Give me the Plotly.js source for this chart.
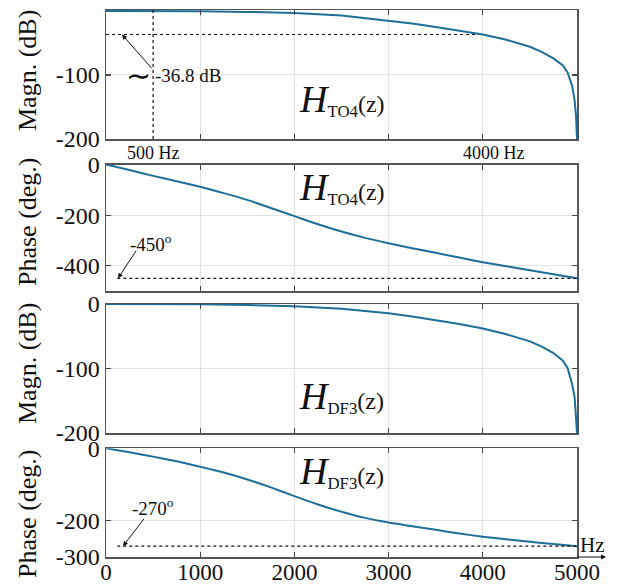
<!DOCTYPE html>
<html><head><meta charset="utf-8">
<script src="https://cdn.plot.ly/plotly-3.0.1.min.js"></script>
<style>html,body{margin:0;padding:0;background:#fff}#chart{width:617px;height:585px}</style>
</head><body><div id="chart"></div>
<script>
// ---- data ----
const magFreq = [0,500,1000,1500,2000,2500,3000,3250,3500,3750,4000,4250,4500,4625,4750,4850,4900,4950,4975,4990,5000];
const magTO4  = [0,0,-0.5,-1.5,-3,-7,-15,-19.5,-25,-30.5,-36.8,-45,-56,-64,-74,-85,-96,-118,-140,-165,-200];
const magDF3  = [0,0,-0.5,-1.5,-3.5,-7.5,-14.5,-19.5,-25,-31,-38,-47,-58,-66,-76,-88,-99,-125,-145,-170,-200];
const phFreq  = [0,250,500,750,1000,1250,1500,1750,2000,2250,2500,2750,3000,3250,3500,3750,4000,4250,4500,4750,5000];
const phTO4   = [0,-22,-45,-66,-88,-113,-140,-172,-204,-236,-265,-290,-311,-331,-349,-368,-386,-402,-418,-434,-450];
const phDF3   = [0,-11,-23,-36,-51,-67,-86,-108,-132,-155,-175,-192,-205,-215,-225,-235,-244,-251,-258,-264,-270];
const xTicks  = [0,1000,2000,3000,4000,5000];
const yTicks1 = [-200,-100,0];
const yTicks2 = [-400,-200,0];
const yTicks3 = [-200,-100,0];
const yTicks4 = [-300,-200,0];
const markMag = -36.8;   // dB at 4000 Hz
const markFreq = 500;    // Hz
const markPh1 = -450;
const markPh2 = -270;

// ---- geometry ----
const W = 617, H = 585;
const M = {l:106, r:40, t:10, b:28};
const PH = H - M.t - M.b, PW = W - M.l - M.r;
const py = p => (H - M.b - p) / PH;   // pixel y -> paper
const px = p => (p - M.l) / PW;       // pixel x -> paper
const col = '#1f6e98';
const FONT = '"Liberation Serif", "Times New Roman", serif';

const traces = [
  {x: magFreq, y: magTO4, xaxis:'x', yaxis:'y', mode:'lines', line:{color:col,width:2}},
  {x: phFreq, y: phTO4, xaxis:'x2', yaxis:'y2', mode:'lines', line:{color:col,width:2,shape:'spline',smoothing:0.6}},
  {x: magFreq, y: magDF3, xaxis:'x3', yaxis:'y3', mode:'lines', line:{color:col,width:2}},
  {x: phFreq, y: phDF3, xaxis:'x4', yaxis:'y4', mode:'lines', line:{color:col,width:2,shape:'spline',smoothing:0.6}}
];

function xa(anchor, labels){
  return {range:[0,5000], anchor:anchor, tickvals: xTicks, ticktext: xTicks.map(String),
    showticklabels: labels, ticks:'inside', ticklen:5, tickcolor:'#444', tickwidth:1.2,
    ticklabelstandoff: -6,
    showline:true, linecolor:'#555', linewidth:1.5, mirror:'allticks',
    showgrid:true, gridcolor:'#e2e2e2', gridwidth:1, zeroline:false,
    tickfont:{family:FONT,size:23,color:'#111'}};
}
function ya(anchor, dom, range, tv){
  return {domain:dom, range:range, anchor:anchor, tickvals:tv, ticktext: tv.map(String),
    ticks:'inside', ticklen:5, tickcolor:'#444', tickwidth:1.2,
    showline:true, linecolor:'#555', linewidth:1.5, mirror:'allticks',
    showgrid:true, gridcolor:'#e2e2e2', gridwidth:1, zeroline:false,
    tickfont:{family:FONT,size:24,color:'#111'}};
}

const dotted = {color:'#111', width:1.2, dash:'dot'};
const shapes = [
  {type:'line', xref:'x', yref:'y', x0:markFreq, x1:markFreq, y0:-200, y1:1.5, line:dotted},
  {type:'line', xref:'x', yref:'y', x0:0, x1:3950, y0:markMag, y1:markMag, line:dotted},
  {type:'line', xref:'x2', yref:'y2', x0:120, x1:5000, y0:markPh1, y1:markPh1, line:dotted},
  {type:'line', xref:'x4', yref:'y4', x0:120, x1:5000, y0:markPh2, y1:markPh2, line:dotted}
];

function hLabel(sub, xr, yr, yv){
  return {xref:xr, yref:yr, x:2028, y:yv, xanchor:'left', yanchor:'middle', showarrow:false,
    text:'<span style="font-size:38px"><i>H</i></span><sub>'+sub+'</sub>(z)',
    font:{family:FONT,size:24,color:'#111'}};
}
function yTitle(txt, ycenter){
  return {xref:'paper', yref:'paper', x:px(27), y:py(ycenter), xanchor:'center', yanchor:'middle',
    textangle:-90, showarrow:false, text:txt, font:{family:FONT,size:26,color:'#111'}};
}

const annotations = [
  yTitle('Magn. (dB)', 71),
  yTitle('Phase (deg.)', 222),
  yTitle('Magn. (dB)', 364),
  yTitle('Phase (deg.)', 514),
  hLabel('TO4','x','y',-139),
  hLabel('TO4','x2','y2',-89),
  hLabel('DF3','x3','y3',-144),
  hLabel('DF3','x4','y4',-63),
  // -36.8 dB arrow & label
  {xref:'x', yref:'y', x:170, y:markMag, axref:'x', ayref:'y', ax:500, ay:-92, showarrow:true,
   arrowhead:2, arrowsize:1, arrowwidth:1, arrowcolor:'#111', text:''},
  {xref:'x', yref:'y', x:500, y:-101, xanchor:'left', yanchor:'middle', showarrow:false,
   text:'-36.8 dB', font:{family:FONT,size:19,color:'#111'}},
  {xref:'x', yref:'y', x:350, y:-101, xanchor:'center', yanchor:'middle', showarrow:false,
   text:'∼', font:{family:FONT,size:30,color:'#111'}},
  {xref:'x', yref:'paper', x:markFreq, y:py(153), xanchor:'center', yanchor:'middle', showarrow:false,
   text:'500 Hz', font:{family:FONT,size:18,color:'#111'}},
  {xref:'x', yref:'paper', x:4115, y:py(153), xanchor:'center', yanchor:'middle', showarrow:false,
   text:'4000 Hz', font:{family:FONT,size:18,color:'#111'}},
  // -450 deg
  {xref:'x2', yref:'y2', x:127, y:markPh1, axref:'x2', ayref:'y2', ax:330, ay:-335, showarrow:true,
   arrowhead:2, arrowsize:1, arrowwidth:1, arrowcolor:'#111', text:''},
  {xref:'x2', yref:'y2', x:233, y:-312, xanchor:'left', yanchor:'middle', showarrow:false,
   text:'-450<sup>o</sup>', font:{family:FONT,size:19,color:'#111'}},
  // -270 deg
  {xref:'x4', yref:'y4', x:180, y:markPh2, axref:'x4', ayref:'y4', ax:414, ay:-191, showarrow:true,
   arrowhead:2, arrowsize:1, arrowwidth:1, arrowcolor:'#111', text:''},
  {xref:'x4', yref:'y4', x:255, y:-163, xanchor:'left', yanchor:'middle', showarrow:false,
   text:'-270<sup>o</sup>', font:{family:FONT,size:19,color:'#111'}},
  // Hz axis arrow
  {xref:'paper', yref:'paper', x:px(606), y:0, ax:-30, ay:0, showarrow:true, arrowhead:2,
   arrowsize:1, arrowwidth:1, arrowcolor:'#111', text:''},
  {xref:'paper', yref:'paper', x:px(578), y:py(545), xanchor:'left', yanchor:'middle', showarrow:false,
   text:'Hz', font:{family:FONT,size:21,color:'#111'}}
];

const layout = {
  width:W, height:H, margin:M, showlegend:false,
  paper_bgcolor:'#fff', plot_bgcolor:'#fff',
  font:{family:FONT,color:'#111'},
  xaxis: xa('y', false), xaxis2: xa('y2', false), xaxis3: xa('y3', false), xaxis4: xa('y4', true),
  yaxis: ya('x', [py(139), py(10)], [-200, 1.5], yTicks1),
  yaxis2: ya('x2', [py(291), py(164.5)], [-500, 0], yTicks2),
  yaxis3: ya('x3', [py(433), py(304)], [-200, 0], yTicks3),
  yaxis4: ya('x4', [0, py(448.3)], [-300, 0], yTicks4),
  shapes: shapes, annotations: annotations
};
Plotly.newPlot('chart', traces, layout, {staticPlot:true, displayModeBar:false});
</script></body></html>
